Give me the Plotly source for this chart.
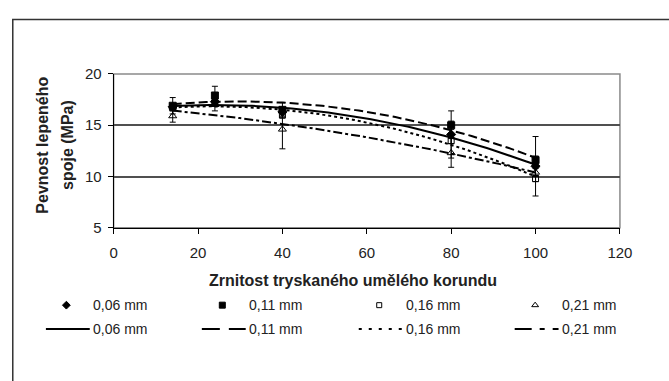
import numpy as np
import plotly.graph_objects as go

# Grain size of the blasted corundum (x) and joint strength in MPa (y)
grain = [14, 24, 40, 80, 100]

names = ["0,06 mm", "0,11 mm", "0,16 mm", "0,21 mm"]
strength_006 = [16.8, 17.3, 16.3, 14.1, 11.0]
strength_011 = [16.9, 17.9, 16.5, 15.0, 11.6]
strength_016 = [16.7, 17.2, 16.0, 13.5, 9.8]
strength_021 = [15.9, 17.0, 14.6, 12.3, 10.4]

err_006 = [0.3, 0.4, 0.4, 2.3, 2.9]
err_011 = [0.8, 0.9, 0.7, 0.4, 0.4]
err_016 = [0.3, 0.3, 0.3, 0.3, 0.3]
err_021 = [0.6, 0.6, 1.9, 1.4, 0.4]

x_ticks = [0, 20, 40, 60, 80, 100, 120]
y_ticks = [5, 10, 15, 20]

series = [strength_006, strength_011, strength_016, strength_021]
errors = [err_006, err_011, err_016, err_021]
symbols = ["diamond", "square", "square-open", "triangle-up-open"]
sizes = [7, 7, 6, 7]
line_dash = ["solid", "9px,4px", "3px,3px", "9px,3px,3px,3px"]
key_dash = ["solid", "18px,9px", "3px,7px", "17px,8px,5px,8px,7px,20px"]

W, H = 669, 381


def fx(px):
    return px / W


def fy(py):
    return 1 - py / H


fig = go.Figure()

for name, ys, es, sym, sz in zip(names, series, errors, symbols, sizes):
    fig.add_trace(go.Scatter(
        x=grain, y=ys, mode="markers", name=name, showlegend=False,
        marker=dict(symbol=sym, size=sz, color="black",
                    line=dict(color="black", width=1)),
        error_y=dict(type="data", array=es, visible=True,
                     color="black", thickness=1, width=3),
    ))

# Second-order polynomial trendlines through each series
xs = np.linspace(min(grain), max(grain), 120)
for name, ys, dash in zip(names, series, line_dash):
    coef = np.polyfit(grain, ys, 2)
    fig.add_trace(go.Scatter(
        x=xs, y=np.polyval(coef, xs), mode="lines", name=name,
        showlegend=False, line=dict(color="black", width=2, dash=dash),
    ))

font = "Liberation Sans, Arial, sans-serif"

fig.update_layout(
    width=W, height=H,
    margin=dict(l=0, r=0, t=0, b=0),
    paper_bgcolor="white", plot_bgcolor="rgba(0,0,0,0)",
    font=dict(family=font, size=15, color="#222"),
    showlegend=False,
    xaxis=dict(domain=[fx(112.5), fx(632)], range=[0, 120], tickvals=x_ticks,
               showgrid=False, showline=True, linecolor="black", linewidth=1,
               ticks="outside", ticklen=5, tickcolor="black",
               zeroline=False, ticklabelstandoff=6),
    yaxis=dict(domain=[fy(229), fy(68)], range=[5, 20], tickvals=y_ticks,
               showgrid=True, gridcolor="#505050", gridwidth=1.6,
               showline=True, linecolor="black", linewidth=1,
               ticks="outside", ticklen=5, tickcolor="black",
               zeroline=False, ticklabelstandoff=3),
    # pixel-space layer for the legend keys
    xaxis2=dict(domain=[0, 1], range=[0, W], visible=False, anchor="y2",
                fixedrange=True),
    yaxis2=dict(domain=[0, 1], range=[H, 0], visible=False, anchor="x2",
                fixedrange=True),
)

# Plot area border and outer chart frame
fig.add_shape(type="rect", xref="paper", yref="paper",
              x0=fx(112.5), x1=fx(632), y0=fy(229), y1=fy(68),
              line=dict(color="#8a8a8a", width=1.5), layer="below")
fig.add_shape(type="rect", xref="paper", yref="paper",
              x0=fx(9), x1=2.0, y0=-2.0, y1=fy(11),
              line=dict(color="#333", width=1.5))

# Axis titles
fig.add_annotation(text="<b>Pevnost lepeného</b>", xref="paper", yref="paper",
                   x=fx(40), y=fy(142), xanchor="center", yanchor="middle",
                   textangle=-90, showarrow=False,
                   font=dict(size=16, color="#222"))
fig.add_annotation(text="<b>spoje (MPa)</b>", xref="paper", yref="paper",
                   x=fx(65), y=fy(142), xanchor="center", yanchor="middle",
                   textangle=-90, showarrow=False,
                   font=dict(size=16, color="#222"))
fig.add_annotation(text="<b>Zrnitost tryskaného umělého korundu</b>",
                   xref="paper", yref="paper", x=fx(358), y=fy(284),
                   xanchor="center", yanchor="middle",
                   showarrow=False, font=dict(size=16, color="#222"))

# Legend: markers in the first row, trendlines in the second
col_text = [88, 248, 409, 569]
row_y = [310, 335]
for i, name in enumerate(names):
    tx = col_text[i]
    fig.add_trace(go.Scatter(
        x=[tx - 24], y=[row_y[0]], mode="markers", xaxis="x2", yaxis="y2",
        showlegend=False, hoverinfo="skip",
        marker=dict(symbol=symbols[i], size=sizes[i] - 1, color="black",
                    line=dict(color="black", width=1)),
    ))
    fig.add_shape(type="line", xref="x2", yref="y2",
                  x0=tx - 45, x1=tx, y0=row_y[1], y1=row_y[1],
                  line=dict(color="black", width=2, dash=key_dash[i]))
    for ry in row_y:
        fig.add_annotation(text=name, xref="x2", yref="y2", x=tx + 1, y=ry,
                           xanchor="left", yanchor="middle", showarrow=False,
                           font=dict(size=14, color="#222"))

fig.write_html("out.html")
